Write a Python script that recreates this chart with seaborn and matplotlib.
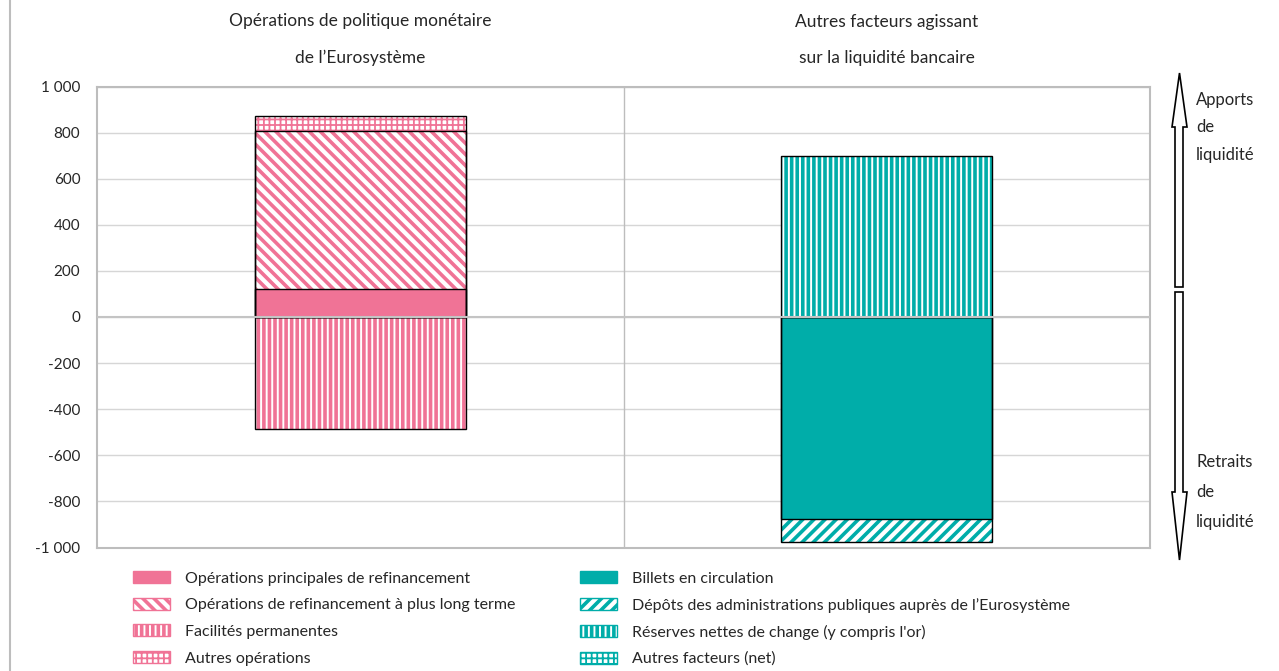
import matplotlib
matplotlib.use("Agg")
import matplotlib.pyplot as plt
from matplotlib.patches import Patch, Polygon
from matplotlib.lines import Line2D
import pandas as pd
import seaborn as sns

# ---------------------------------------------------------------- data
categories = ["Opérations de politique monétaire\nde l’Eurosystème",
              "Autres facteurs agissant\nsur la liquidité bancaire"]

op_labels = ["Opérations principales de refinancement",
             "Opérations de refinancement à plus long terme",
             "Facilités permanentes",
             "Autres opérations"]
op_values = [120, 685, -488, 65]

af_labels = ["Billets en circulation",
             "Dépôts des administrations publiques auprès de l’Eurosystème",
             "Réserves nettes de change (y compris l'or)",
             "Autres facteurs (net)"]
af_values = [-875, -100, 700, 0]

y_ticks = [-1000, -800, -600, -400, -200, 0, 200, 400, 600, 800, 1000]
y_ticklabels = ["-1 000", "-800", "-600", "-400", "-200", "0",
                "200", "400", "600", "800", "1 000"]

# ---------------------------------------------------------------- style
PINK = "#F07396"
TEAL = "#00ADA9"
GRID = "#d6d6d6"
FRAME = "#bdbdbd"

sns.set_theme(style="white")
plt.rcParams["font.family"] = ["Lato", "DejaVu Sans"]
plt.rcParams["hatch.linewidth"] = 2.6

# hatch per series (None = solid fill) and the stroke width of each hatch
op_hatches = [None, "\\\\\\", "|||", "+++"]
af_hatches = [None, "///", "|||", "+++"]
HATCH_LW = {"+++": 1.3}


def hatch_lw(h):
    return HATCH_LW.get(h, 2.6)


fig = plt.figure(figsize=(12.79, 6.71), dpi=100)
ax = fig.add_axes([97 / 1279, 1 - 547.5 / 671, (1150 - 97) / 1279, (547.5 - 86.5) / 671])


def stack_segments(values):
    """Return (bottom, top) for each value, stacking positives up and negatives down."""
    pos, neg, segs = 0.0, 0.0, []
    for v in values:
        if v >= 0:
            segs.append((pos, pos + v))
            pos += v
        else:
            segs.append((neg, neg + v))
            neg += v
    return segs


def draw_group(cat, values, hatches, color):
    segs = stack_segments(values)
    # outermost segments first, inner ones drawn over them
    order = sorted(range(len(values)), key=lambda i: -abs(segs[i][1]))
    for i in order:
        if values[i] == 0:
            continue
        df = pd.DataFrame({"cat": [cat], "val": [segs[i][1]]})
        if hatches[i] is None:
            sns.barplot(data=df, x="cat", y="val", order=categories, width=0.4,
                        color=color, saturation=1, linewidth=0, errorbar=None,
                        ax=ax, zorder=2)
        else:
            n_before = len(ax.patches)
            with plt.rc_context({"hatch.linewidth": hatch_lw(hatches[i])}):
                sns.barplot(data=df, x="cat", y="val", order=categories, width=0.4,
                            color="white", saturation=1, edgecolor=color,
                            hatch=hatches[i], linewidth=0, errorbar=None,
                            ax=ax, zorder=2)
            for p in ax.patches[n_before:]:
                if hasattr(p, "set_hatch_linewidth"):
                    p.set_hatch_linewidth(hatch_lw(hatches[i]))
        sns.barplot(data=df, x="cat", y="val", order=categories, width=0.4,
                    color="black", fill=False, linewidth=1.0, errorbar=None,
                    ax=ax, zorder=3)


draw_group(categories[0], op_values, op_hatches, PINK)
draw_group(categories[1], af_values, af_hatches, TEAL)

# axes, grid, separators
ax.set_ylim(-1000, 1000)
ax.set_xlim(-0.5, 1.5)
ax.set_yticks(y_ticks)
ax.set_yticklabels(y_ticklabels)
ax.set_xlabel("")
ax.set_ylabel("")
ax.yaxis.grid(True, color=GRID, linewidth=1.0)
ax.set_axisbelow(True)
ax.axvline(0.5, color=FRAME, linewidth=1.0, zorder=1)
ax.axhline(0, color="#c4c4c4", linewidth=1.5, zorder=4)
for s in ax.spines.values():
    s.set_color(FRAME)
    s.set_linewidth(1.5)
ax.xaxis.tick_top()
ax.tick_params(axis="x", length=0, pad=15, labelsize=12.5)
for lbl in ax.get_xticklabels():
    lbl.set_linespacing(2.52)
ax.tick_params(axis="y", length=0, pad=12, labelsize=11)

# overlay in pixel coordinates for the side arrows and page frame
ov = fig.add_axes([0, 0, 1, 1], facecolor="none")
ov.set_xlim(0, 1279)
ov.set_ylim(671, 0)
ov.axis("off")
ov.add_line(Line2D([10, 10], [0, 671], color=FRAME, linewidth=1.5))

up = [(1175, 287), (1175, 127), (1172, 127), (1179.5, 73), (1187, 127), (1183, 127), (1183, 287)]
down = [(1175, 292), (1175, 492), (1172, 492), (1179.5, 560), (1187, 492), (1183, 492), (1183, 292)]
for pts in (up, down):
    ov.add_patch(Polygon(pts, closed=True, facecolor="white", edgecolor="black", linewidth=1.2))

for txt, y in (("Apports", 100), ("de", 127), ("liquidité", 155),
               ("Retraits", 462), ("de", 492), ("liquidité", 522)):
    ov.text(1196, y, txt, fontsize=12, va="center", ha="left")


# legends, one column per group
def legend_handles(hatches, color):
    hs = []
    for h in hatches:
        if h is None:
            hs.append(Patch(facecolor=color, edgecolor=color, linewidth=1))
        else:
            with plt.rc_context({"hatch.linewidth": hatch_lw(h)}):
                p = Patch(facecolor="white", edgecolor=color, hatch=h, linewidth=1)
            hs.append(p)
    return hs


common = dict(loc="upper left", frameon=False, fontsize=11.5, borderpad=0,
              borderaxespad=0, handlelength=2.3, handleheight=0.8,
              handletextpad=0.95, labelspacing=0.75)
for hatches, color, labels, x0 in ((op_hatches, PINK, op_labels, 133),
                                   (af_hatches, TEAL, af_labels, 580)):
    leg = fig.legend(legend_handles(hatches, color), labels,
                     bbox_to_anchor=(x0 / 1279, 1 - 571 / 671), **common)
    for h, patch in zip(hatches, leg.get_patches()):
        if h is not None and hasattr(patch, "set_hatch_linewidth"):
            patch.set_hatch_linewidth(hatch_lw(h))

fig.savefig("out.png", dpi=100)
